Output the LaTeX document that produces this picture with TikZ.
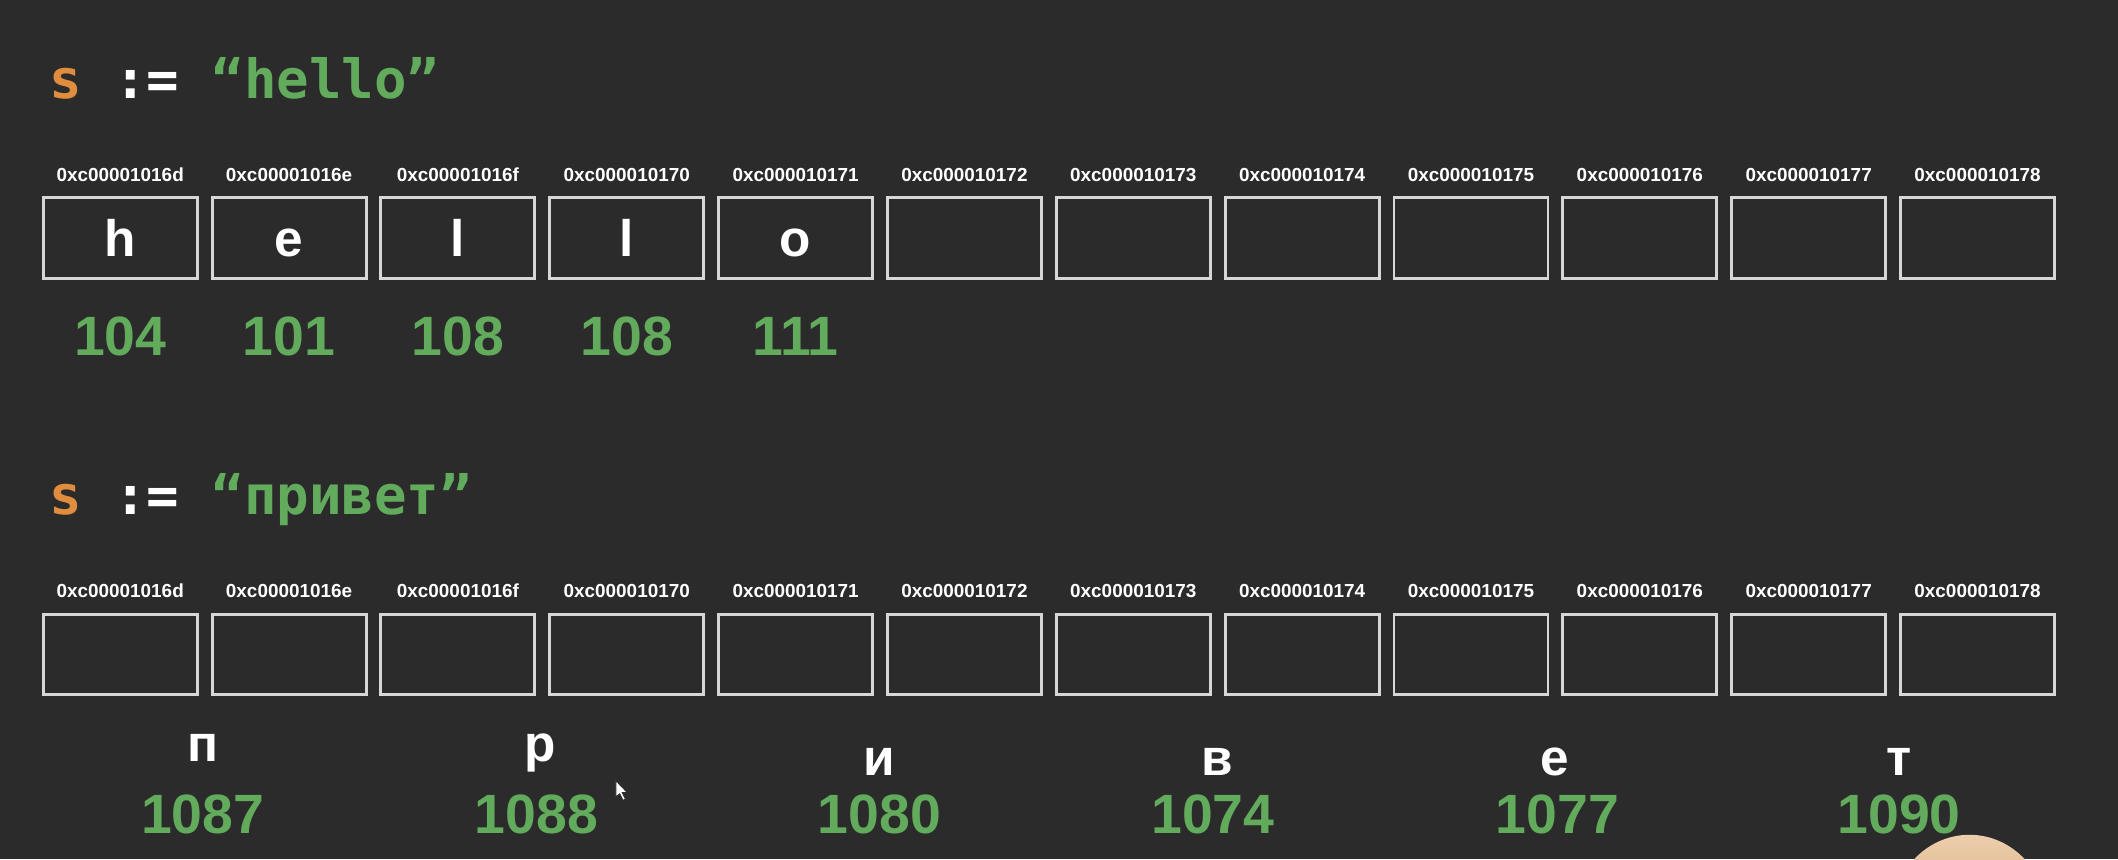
\documentclass[tikz,border=0pt]{standalone}
\usepackage{fontspec}
\setmainfont{Liberation Sans}
\newfontfamily\codefont{DejaVu Sans Mono}
\definecolor{bg}{RGB}{43,43,43}
\definecolor{sgreen}{RGB}{98,170,92}
\definecolor{sorange}{RGB}{224,142,62}
\definecolor{boxline}{RGB}{215,215,215}
\definecolor{skinA}{RGB}{236,205,170}
\definecolor{skinB}{RGB}{200,150,110}
\tikzset{
  cell/.style={draw=boxline, line width=1.1pt, minimum width=57pt, minimum height=29.75pt, inner sep=0pt},
  codetxt/.style={font=\codefont\bfseries\fontsize{20pt}{24pt}\selectfont, inner sep=0pt, anchor=base west},
  addr/.style={font=\bfseries\fontsize{7pt}{8pt}\selectfont, text=white, inner sep=0pt, anchor=base},
  chr/.style={font=\bfseries\fontsize{19pt}{22pt}\selectfont, text=white, inner sep=0pt, anchor=base},
  code/.style={font=\bfseries\fontsize{20.5pt}{24pt}\selectfont, text=sgreen, inner sep=0pt, anchor=base}
}
\begin{document}
\begin{tikzpicture}[x=0.5pt,y=-0.5pt]
\fill[bg] (0,0) rectangle (1568,636);
\useasboundingbox (0,0) rectangle (1568,636);

% code lines
\node[codetxt] (code1) at (36,73) {\textcolor{sorange}{s} \textcolor{white}{:=} \textcolor{sgreen}{“hello”}};
\node[codetxt] (code2) at (36,381) {\textcolor{sorange}{s} \textcolor{white}{:=} \textcolor{sgreen}{“привет”}};

% address labels and cells
\foreach \a [count=\i from 0] in {0xc00001016d,0xc00001016e,0xc00001016f,0xc000010170,0xc000010171,0xc000010172,0xc000010173,0xc000010174,0xc000010175,0xc000010176,0xc000010177,0xc000010178}{
  \node[addr] (a1-\i) at ({89+125*\i},134.5) {\a};
  \node[cell] (c1-\i) at ({89+125*\i},176.25) {};
  \node[addr] (a2-\i) at ({89+125*\i},442.5) {\a};
  \node[cell] (c2-\i) at ({89+125*\i},484.75) {};
}

% hello characters and codes
\foreach \ch/\num [count=\i from 0] in {h/104,e/101,l/108,l/108,o/111}{
  \node[chr] (h-\i) at ({89+125*\i},190) {\ch};
  \node[code] (n1-\i) at ({89+125*\i},263) {\num};
}

% privet characters and codes
\node[chr] (p-0) at (150,564) {п};
\node[chr] (p-1) at (400,564) {р};
\node[chr] (p-2) at (651,574) {и};
\node[chr] (p-3) at (901,574) {в};
\node[chr] (p-4) at (1151,574) {е};
\node[chr] (p-5) at (1406,574) {т};
\node[code] (n2-0) at (150,617) {1087};
\node[code] (n2-1) at (397,617) {1088};
\node[code] (n2-2) at (651,617) {1080};
\node[code] (n2-3) at (898,617) {1074};
\node[code] (n2-4) at (1153,617) {1077};
\node[code] (n2-5) at (1406,617) {1090};

% mouse cursor
\fill[white, draw=bg, line width=0.3pt] (456,578) -- (456,590) -- (458.8,587.6) -- (461.2,592.4) -- (463,591.6) -- (460.6,586.8) -- (464.4,586.8) -- cycle;

% finger at bottom right
\begin{scope}
\clip (0,0) rectangle (1568,636);
\shade[top color=skinA, bottom color=skinB] (1458,680) ellipse [x radius=58, y radius=62];
\end{scope}
\end{tikzpicture}
\end{document}
